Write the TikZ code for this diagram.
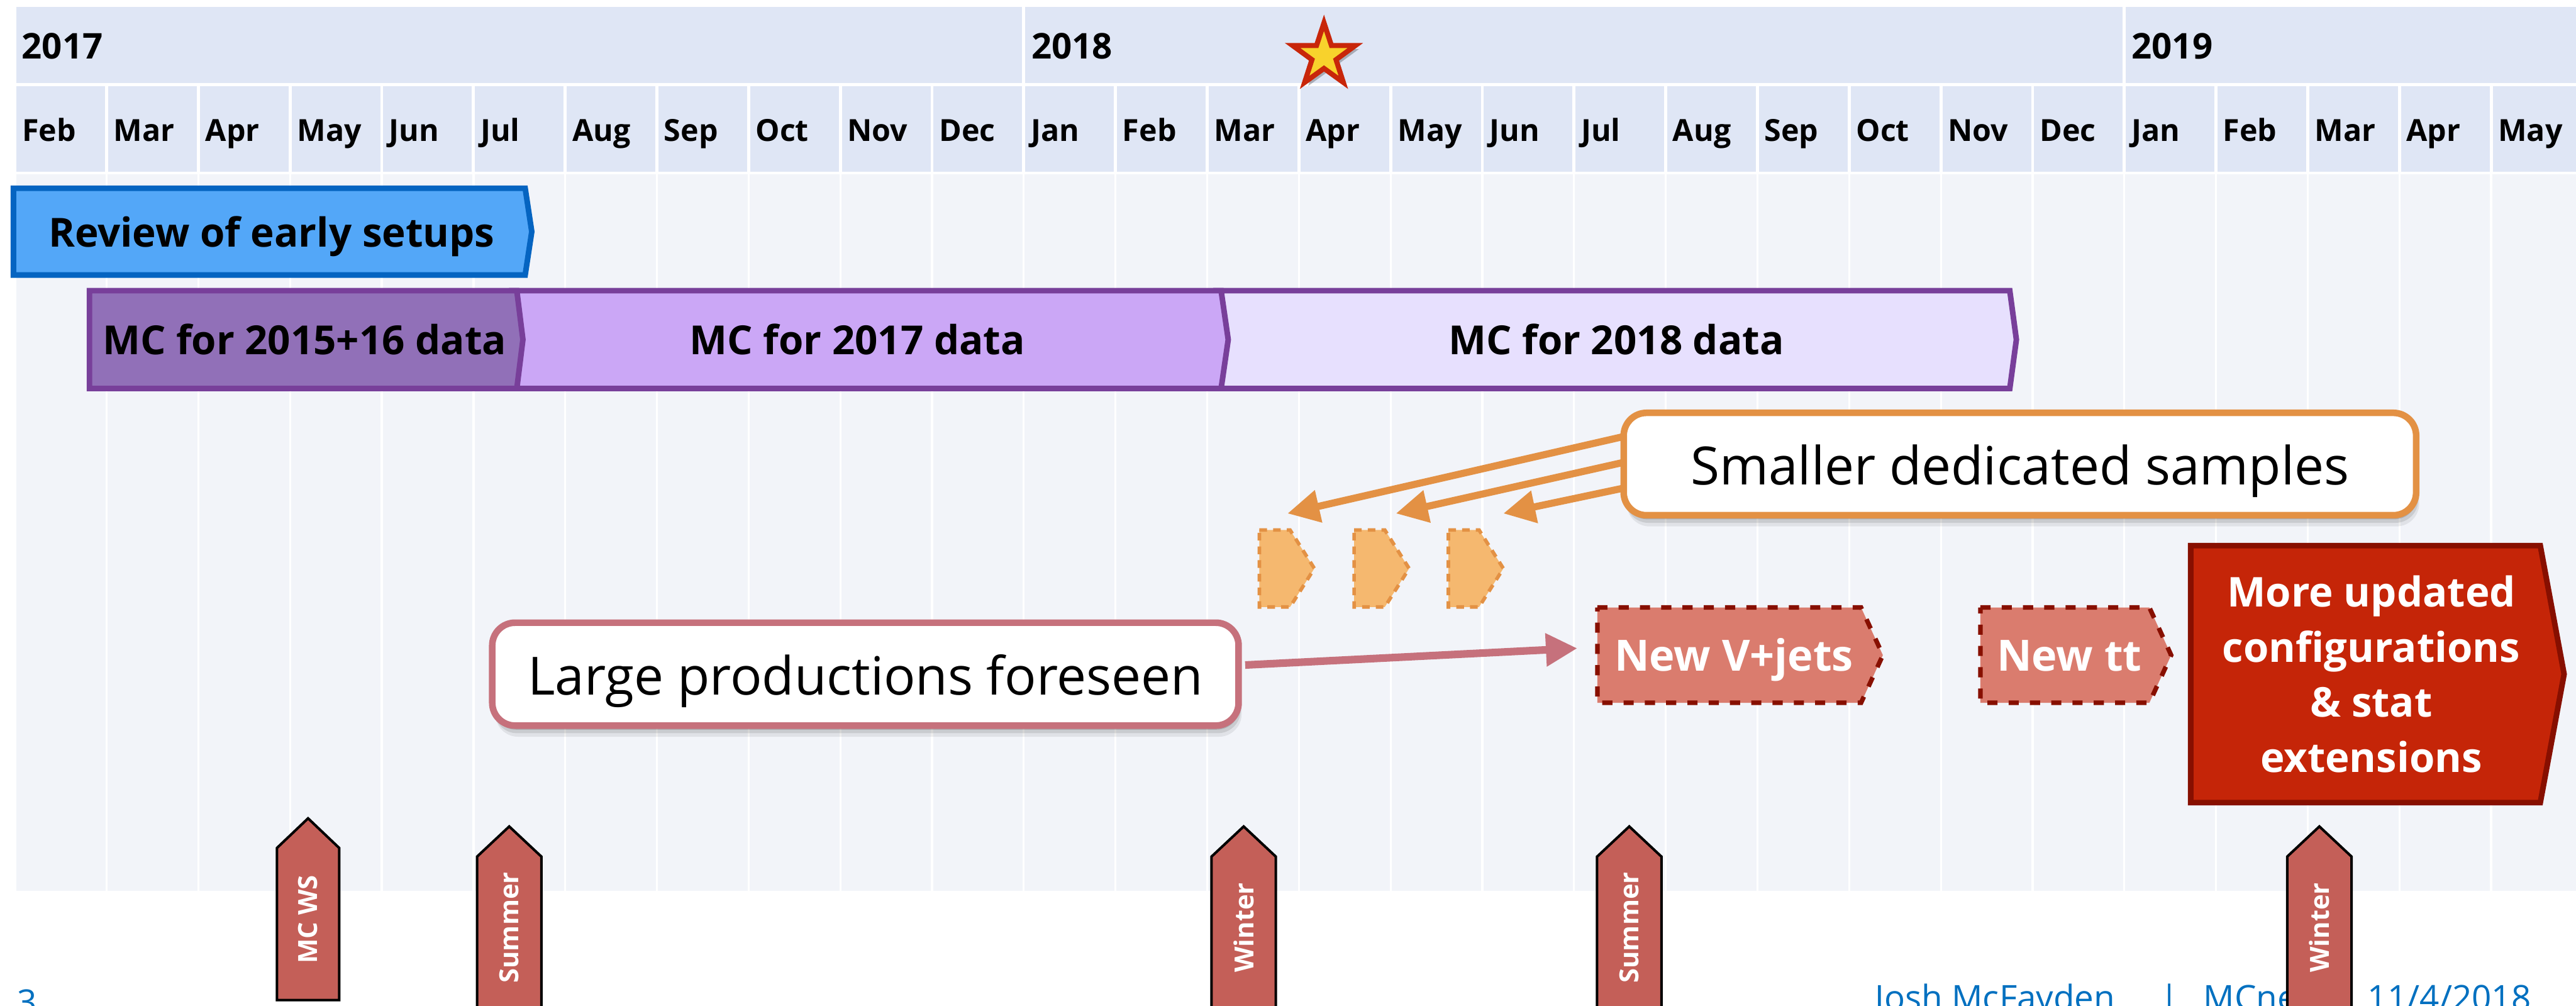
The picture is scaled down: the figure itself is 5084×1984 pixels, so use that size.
\documentclass[tikz,border=0pt]{standalone}
\usepackage{fontspec}
\setmainfont{Open Sans}
\usetikzlibrary{arrows.meta,shadows,shapes.geometric}
\definecolor{hdr}{HTML}{DFE6F5}
\definecolor{bodybg}{HTML}{F2F4F9}
\definecolor{revfill}{HTML}{53A7F8}
\definecolor{revline}{HTML}{0564C1}
\definecolor{purpline}{HTML}{783F9A}
\definecolor{mcA}{HTML}{9170B8}
\definecolor{mcB}{HTML}{CBA7F6}
\definecolor{mcC}{HTML}{E7E0FE}
\definecolor{orline}{HTML}{E39144}
\definecolor{orfill}{HTML}{F5B86F}
\definecolor{pinkline}{HTML}{C6717C}
\definecolor{salmon}{HTML}{DA7C6E}
\definecolor{darkred}{HTML}{870F00}
\definecolor{bigred}{HTML}{C52508}
\definecolor{msfill}{HTML}{C45F58}
\definecolor{starfill}{HTML}{F8D22C}
\definecolor{starline}{HTML}{C8260A}
\definecolor{footblue}{HTML}{0070C0}
\tikzset{
  yearlbl/.style={anchor=base west, inner sep=0pt, font=\bfseries\fontsize{14}{16}\selectfont},
  monthlbl/.style={anchor=base west, inner sep=0pt, font=\bfseries\fontsize{12}{14}\selectfont},
  bartext/.style={anchor=base, inner sep=0pt, font=\bfseries\fontsize{15.8}{18}\selectfont},
  boxtext/.style={anchor=base, inner sep=0pt, text=white, font=\bfseries\fontsize{17}{20}\selectfont},
  barline/.style={line width=2.2pt, line join=miter},
  softshadow/.style={
    drop shadow={shadow xshift=0.4pt, shadow yshift=-1.6pt, opacity=0.14, fill=black},
    drop shadow={shadow xshift=0.8pt, shadow yshift=-3pt, opacity=0.1, fill=black},
    drop shadow={shadow xshift=1.2pt, shadow yshift=-4.4pt, opacity=0.07, fill=black}},
  callout/.style={fill=white, line width=2.6pt, rounded corners=9pt, inner sep=0pt,
    text height=16.5pt, text depth=0pt, font=\fontsize{20.8}{24}\selectfont, softshadow},
  orarrow/.style={draw=orline, line width=2.8pt, -{Triangle[length=12.6pt,width=12.4pt]}},
  pinkarrow/.style={draw=pinkline, line width=3pt, -{Triangle[length=12.4pt,width=12.4pt]}},
  smallchev/.style={draw=orline, fill=orfill, line width=1.4pt, line join=miter, dash pattern=on 3pt off 2.4pt},
  dashbox/.style={draw=darkred, fill=salmon, line width=1.8pt, dash pattern=on 4pt off 4.4pt},
  milestone/.style={draw=black, fill=msfill, line width=1pt, line join=miter},
  mstext/.style={rotate=90, text=white, inner sep=0pt, font=\bfseries\fontsize{10.4}{12}\selectfont},
  footer/.style={anchor=base west, inner sep=0pt, text=footblue, font=\fontsize{13.6}{16}\selectfont},
  starshape/.style={draw=starline, fill=starfill, line width=2pt, line join=miter,
    drop shadow={shadow xshift=1.4pt, shadow yshift=-1.4pt, opacity=0.25, fill=black}},
}
\begin{document}
\begin{tikzpicture}[x=0.2pt,y=-0.2pt]
\useasboundingbox (0,0) rectangle (5084,1984);
\fill[white] (0,0) rectangle (5084,1984);
% header and body background
\fill[hdr] (32,14) rectangle (5084,164);
\fill[hdr] (32,170) rectangle (5084,339);
\fill[bodybg] (32,344) rectangle (5084,1758);
\foreach \x in {2020.5,4192.5} \draw[white,line width=1.2pt] (\x,14) -- (\x,164);
\foreach \i in {1,...,27} {
  \draw[white,line width=1.2pt] (29.5+181*\i,170) -- (29.5+181*\i,339);
  \draw[white,line width=0.8pt] (29.5+181*\i,344) -- (29.5+181*\i,1758);
}
\node[yearlbl] (y17) at (42,116) {2017};
\node[yearlbl] (y18) at (2035,116) {2018};
\node[yearlbl] (y19) at (4206,116) {2019};
\foreach \m [count=\i from 0] in {Feb,Mar,Apr,May,Jun,Jul,Aug,Sep,Oct,Nov,Dec,Jan,Feb,Mar,Apr,May,Jun,Jul,Aug,Sep,Oct,Nov,Dec,Jan,Feb,Mar,Apr,May}
  \node[monthlbl] (m\i) at (29.5+181*\i+13,279) {\m};
% star
\coordinate (starc) at (2613,110);
\draw[starshape, shift={(starc)}] (-90:65) -- (-54:25) -- (-18:65) -- (18:25) -- (54:65) -- (90:25) -- (126:65) -- (162:25) -- (198:65) -- (234:25) -- cycle;
% MC bars
\draw[barline, draw=purpline, fill=mcC] (2400,573.5) -- (3966.5,573.5) -- (3979.5,670) -- (3966.5,766.5) -- (2400,766.5) -- cycle;
\draw[barline, draw=purpline, fill=mcB] (1010,573.5) -- (2410,573.5) -- (2424,670) -- (2410,766.5) -- (1010,766.5) -- cycle;
\draw[barline, draw=purpline, fill=mcA] (176.5,573.5) -- (1020,573.5) -- (1032,670) -- (1020,766.5) -- (176.5,766.5) -- cycle;
\node[bartext] (mc1516) at (601,700) {MC for 2015+16 data};
\node[bartext] (mc17) at (1692,700) {MC for 2017 data};
\node[bartext] (mc18) at (3190,700) {MC for 2018 data};
% review bar
\draw[barline, draw=revline, fill=revfill] (26.5,371.5) -- (1036.5,371.5) -- (1049.5,457) -- (1036.5,542.5) -- (26.5,542.5) -- cycle;
\node[bartext] (review) at (536,487) {Review of early setups};
% small dedicated chevrons
\foreach \x in {2482,2669,2855}
  \draw[smallchev] (\x+3.5,1045.5) -- (\x+64,1045.5) -- (\x+112,1121.5) -- (\x+64,1197.5) -- (\x+3.5,1197.5) -- cycle;
\coordinate (t1) at (2541,1013);
\coordinate (t2) at (2755,1013);
\coordinate (t3) at (2967,1013);
% callout: smaller dedicated samples
\path (3986.5,915.5) node[minimum width=312.8pt, minimum height=40.4pt, inner sep=0pt] (smallpos) {};
\draw[orarrow] ([xshift=3pt,yshift=11.5pt]smallpos.west) -- (t1);
\draw[orarrow] ([xshift=3pt,yshift=1.3pt]smallpos.west) -- (t2);
\draw[orarrow] ([xshift=3pt,yshift=-8.9pt]smallpos.west) -- (t3);
\node[callout, draw=orline, minimum width=312.8pt, minimum height=40.4pt] (small) at (3986.5,915.5) {Smaller dedicated samples};
% large productions
\coordinate (vjin) at (3113,1279);
\node[callout, draw=pinkline, minimum width=294.6pt, minimum height=40.6pt] (large) at (1708,1330) {Large productions foreseen};
\draw[pinkarrow] ([xshift=1.3pt,yshift=3.6pt]large.east) -- (vjin);
% new boxes
\draw[dashbox] (3152.5,1198.5) -- (3673,1198.5) -- (3716,1292.5) -- (3673,1386.5) -- (3152.5,1386.5) -- cycle;
\node[boxtext] (vjets) at (3422,1324) {New V+jets};
\draw[dashbox] (3908.5,1198.5) -- (4242,1198.5) -- (4285,1292.5) -- (4242,1386.5) -- (3908.5,1386.5) -- cycle;
\node[boxtext] (ntt) at (4084,1324) {New tt};
\draw[barline, draw=darkred, fill=bigred] (4323.5,1076.5) -- (5013.5,1076.5) -- (5060.5,1330) -- (5013.5,1583.5) -- (4323.5,1583.5) -- cycle;
\node[align=center, text=white, inner sep=0pt, font=\bfseries\fontsize{16.2}{21.8}\selectfont] (more) at (4680,1330) {More updated\\configurations\\\& stat\\extensions};
% footer
\node[footer] (pg) at (33,2001) {3};
\node[footer] (f1) at (3700,1993) {Josh McFayden};
\node[footer] (f2) at (4262,1993) {|};
\node[footer] (f3) at (4348,1993) {MCnet};
\node[footer] (f4) at (4672,1993) {11/4/2018};
% milestones
\draw[milestone] (546.5,1973) -- (546.5,1673) -- (608,1614.5) -- (669.5,1673) -- (669.5,1973) -- cycle;
\node[mstext] (ms1) at (607,1814) {MC WS};
\foreach \c/\lab/\nm in {1005/Summer/ms2, 2454.5/Winter/ms3, 3215.5/Summer/ms4, 4577.5/Winter/ms5} {
  \draw[milestone] (\c-63.5,2010) -- (\c-63.5,1690) -- (\c,1630.5) -- (\c+63.5,1690) -- (\c+63.5,2010) -- cycle;
  \node[mstext] (\nm) at (\c,1830) {\lab};
}
\end{tikzpicture}
\end{document}
